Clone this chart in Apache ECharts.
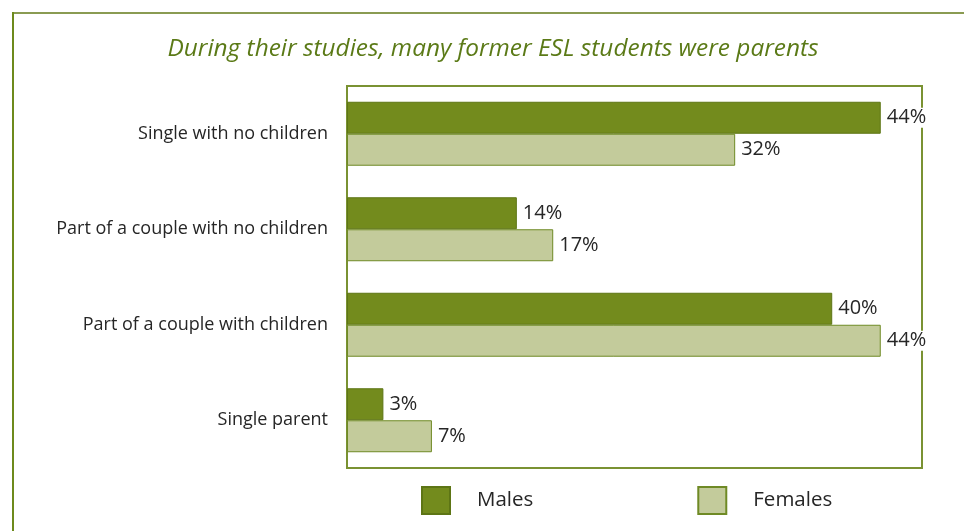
<!DOCTYPE html>
<html>
<head>
<meta charset="utf-8">
<script src="https://cdn.jsdelivr.net/npm/echarts@6/dist/echarts.min.js"></script>
<style>
  html, body { margin: 0; padding: 0; background: #ffffff; }
  #chart { width: 964px; height: 531px; }
</style>
</head>
<body>
<div id="chart"></div>
<script>
// Household situation of former ESL students during their studies (%)
const categories = [
  'Single with no children',
  'Part of a couple with no children',
  'Part of a couple with children',
  'Single parent'
];
const males = [44, 14, 40, 3];
const females = [32, 17, 44, 7];
const seriesNames = ['Males', 'Females'];
const titleText = 'During their studies, many former ESL students were parents';

const FONT = 'Open Sans';
const TEXT = '#262626';
const FRAME = '#7a9232';

const chart = echarts.init(document.getElementById('chart'), null, { renderer: 'canvas' });

const valueLabel = {
  show: true,
  position: 'right',
  distance: 5,
  formatter: '{c}%',
  fontFamily: FONT,
  fontSize: 20,
  color: TEXT,
  backgroundColor: '#ffffff',
  padding: [0, 1, 0, 1]
};

chart.setOption({
  animation: false,
  backgroundColor: '#ffffff',
  title: {
    text: titleText,
    left: 488,
    textAlign: 'center',
    top: 32,
    textStyle: {
      fontFamily: FONT,
      fontStyle: 'italic',
      fontWeight: 'normal',
      fontSize: 24.4,
      color: '#5b7a17'
    }
  },
  graphic: [
    // outer frame: top and left edges
    { type: 'line', shape: { x1: 12, y1: 13, x2: 964, y2: 13 }, style: { stroke: '#8a9b52', lineWidth: 2 } },
    { type: 'line', shape: { x1: 13, y1: 12, x2: 13, y2: 531 }, style: { stroke: '#6d8a1c', lineWidth: 2 } }
  ],
  grid: {
    left: 347,
    right: 42,
    top: 86,
    bottom: 63,
    show: true,
    borderColor: FRAME,
    borderWidth: 2,
    backgroundColor: 'transparent'
  },
  legend: {
    data: seriesNames,
    left: 416,
    top: 481,
    itemWidth: 28,
    itemHeight: 27,
    itemGap: 164,
    icon: 'rect',
    textStyle: {
      fontFamily: FONT,
      fontSize: 20.5,
      color: TEXT,
      padding: [0, 0, 0, 22]
    }
  },
  xAxis: {
    type: 'value',
    min: 0,
    max: 47.4,
    show: false
  },
  yAxis: {
    type: 'category',
    data: categories,
    inverse: true,
    axisLine: { show: false },
    axisTick: { show: false },
    splitLine: { show: false },
    axisLabel: {
      fontFamily: FONT,
      fontSize: 18,
      color: TEXT,
      margin: 19
    }
  },
  series: [
    {
      name: seriesNames[0],
      type: 'bar',
      data: males,
      barGap: '0%',
      barCategoryGap: '33%',
      itemStyle: { color: '#738b1d', borderColor: '#5d7515', borderWidth: 1 },
      label: valueLabel
    },
    {
      name: seriesNames[1],
      type: 'bar',
      data: females,
      barGap: '0%',
      barCategoryGap: '33%',
      itemStyle: { color: '#c3cb9b', borderColor: '#6f8a25', borderWidth: 1 },
      label: valueLabel
    }
  ]
});
</script>
</body>
</html>
